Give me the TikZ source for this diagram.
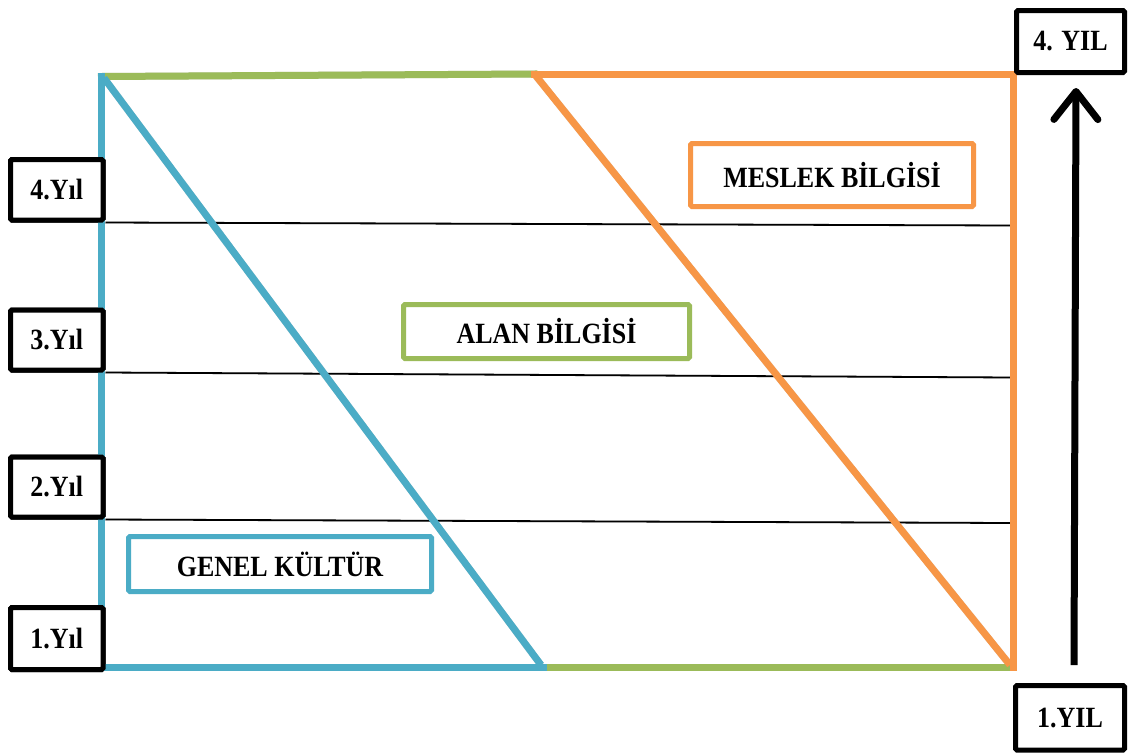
\documentclass[tikz,border=0pt]{standalone}
\usepackage{fontspec}
\setmainfont{Liberation Serif}
\usetikzlibrary{arrows.meta}

\definecolor{kblue}{HTML}{4BACC6}
\definecolor{kgreen}{HTML}{9BBB59}
\definecolor{korange}{HTML}{F79646}

% bold label text, slightly stretched vertically
\newcommand\lbl[1]{\scalebox{1}[1.13]{\fontsize{26}{30}\selectfont\bfseries #1}}

\tikzset{
  band/.style={line width=7pt, line cap=rect},
  shade/.style={draw=black!35, opacity=0.45, line width=7pt, shift={(1.5,2.5)}},
  yearbox/.style={draw=black, line width=5pt, fill=white, rounded corners=1.5pt,
                  inner sep=0pt},
  areabox/.style={line width=5pt, fill=white, rounded corners=1.5pt, inner sep=0pt},
  grid/.style={draw=black, line width=1.8pt},
  gridshade/.style={draw=black!30, opacity=0.5, line width=1.8pt, shift={(0.5,2.5)}},
}

\begin{document}
\begin{tikzpicture}[x=1pt,y=-1pt]
  \useasboundingbox[fill=white] (0,0) rectangle (1129,753);

  % corners of the frame
  \coordinate (TL) at (101.5,76.5);
  \coordinate (BL) at (101.5,667);
  \coordinate (BM) at (543,667);
  \coordinate (TM) at (534,74);
  \coordinate (TR) at (1013,74);
  \coordinate (BR) at (1013,667);
  \coordinate (TLd) at (104,78);
  \coordinate (BMd) at (541,665);
  \coordinate (TMd) at (536,76);
  \coordinate (BRd) at (1010,665);

  % right ends of the year lines
  \coordinate (r4) at (1012,225.5);
  \coordinate (r3) at (1012,377.5);
  \coordinate (r2) at (1012,523);

  % soft shadows under the frame
  \draw[shade] (TL) -- (TM);
  \draw[shade] (TL) -- (BL) -- (BM) -- (BR);
  \draw[shade] (TLd) -- (BMd);
  \draw[shade] (TM) -- (TR) -- (BR);
  \draw[shade] (TMd) -- (BRd);

  % year lines
  \draw[gridshade] (104,220) -- (r4);
  \draw[gridshade] (104,370) -- (r3);
  \draw[gridshade] (104,517) -- (r2);

  % left year boxes
  \node[yearbox, minimum width=92.5pt, minimum height=60.5pt] (y4) at (56.75,189.75) {\lbl{4.Yıl}};
  \node[yearbox, minimum width=92.5pt, minimum height=60pt]   (y3) at (56.75,340)    {\lbl{3.Yıl}};
  \node[yearbox, minimum width=92.5pt, minimum height=60pt]   (y2) at (56.75,487)    {\lbl{2.Yıl}};
  \node[yearbox, minimum width=92.5pt, minimum height=62pt]   (y1) at (56.75,638.5)  {\lbl{1.Yıl}};

  \draw[grid] (y4.south east) -- (r4);
  \draw[grid] (y3.south east) -- (r3);
  \draw[grid] (y2.south east) -- (r2);

  % general culture: blue
  \draw[band, kgreen] (TL) -- (TM);
  \draw[band, kgreen] (BM) -- (BR);
  \draw[band, kblue] (TL) -- (BL) -- (BM);
  \draw[band, kblue, line cap=butt] (TLd) -- (BMd);
  % professional knowledge: orange
  \draw[band, korange] (TM) -- (TR) -- (BR);
  \draw[band, korange, line cap=butt] (TMd) -- (BRd);

  % redraw the left year boxes over the frame
  \node[yearbox, minimum width=92.5pt, minimum height=60.5pt] at (y4) {\lbl{4.Yıl}};
  \node[yearbox, minimum width=92.5pt, minimum height=60pt]   at (y3) {\lbl{3.Yıl}};
  \node[yearbox, minimum width=92.5pt, minimum height=60pt]   at (y2) {\lbl{2.Yıl}};
  \node[yearbox, minimum width=92.5pt, minimum height=62pt]   at (y1) {\lbl{1.Yıl}};

  % area labels
  \node[areabox, draw=korange, minimum width=283pt, minimum height=63pt] (meslek) at (832,175)     {\lbl{MESLEK BİLGİSİ}};
  \node[areabox, draw=kgreen,  minimum width=286pt, minimum height=54pt] (alan)   at (546.5,331.5) {\lbl{ALAN BİLGİSİ}};
  \node[areabox, draw=kblue,   minimum width=303pt, minimum height=55pt] (genel)  at (280,564)     {\lbl{GENEL KÜLTÜR}};

  % time axis on the right
  \node[yearbox, minimum width=108pt, minimum height=62pt]   (top) at (1070.5,41.5) {\lbl{4. YIL}};
  \node[yearbox, minimum width=109pt, minimum height=64.5pt] (bot) at (1070,717.75) {\lbl{1.YIL}};
  \coordinate (abot) at (1074,665);
  \coordinate (atop) at (1076,88);
  \draw[line width=7pt, -{Straight Barb[length=28pt, width=44pt, round]}] (abot) -- (atop);
\end{tikzpicture}
\end{document}
